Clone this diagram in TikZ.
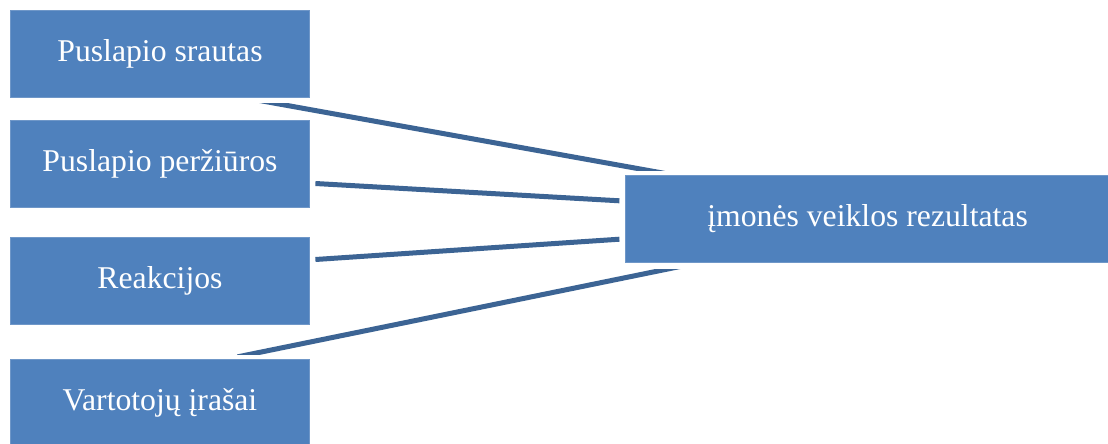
\documentclass[tikz,border=0pt]{standalone}
\usepackage{fontspec}
\setmainfont{Liberation Serif}
\definecolor{boxblue}{HTML}{4F81BD}
\definecolor{boxedge}{HTML}{6F97C8}
\definecolor{linkblue}{HTML}{3C6494}
\begin{document}
\begin{tikzpicture}[x=1pt,y=-1pt,
  itembox/.style={rectangle, fill=boxblue, draw=boxedge, line width=0.8pt,
    inner sep=0pt, minimum width=299pt, minimum height=87pt,
    text=white, font=\fontsize{31.7}{38}\selectfont},
  resultbox/.style={itembox, minimum width=485pt},
  link/.style={draw=linkblue, line width=5pt, line cap=butt}]
  \clip (0,0) rectangle (1108,444);
  \fill[white] (0,0) rectangle (1108,444);

  % source boxes on the left
  \node[itembox] (a) at (160,53.5)  {Puslapio srautas};
  \node[itembox] (b) at (160,164.2) {Puslapio peržiūros};
  \node[itembox] (c) at (160,280.4) {Reakcijos};
  \node[itembox] (d) at (160,402.8) {Vartotojų įrašai};

  % target box on the right
  \node[resultbox] (r) at (867.6,218.7) {įmonės veiklos rezultatas};

  % connectors; the slanted ones end in horizontal cuts
  \begin{scope}
    \clip (0,103.3) rectangle (1108,170);
    \draw[link] ([shift={(-52.5,2.7)}]a.south east) -- ([shift={(40,-1.4)}]r.north west);
  \end{scope}
  \draw[link] ([shift={(5.5,19.3)}]b.east) -- ([shift={(-5.3,-17.9)}]r.west);
  \draw[link] ([shift={(5.5,-20.9)}]c.east) -- ([shift={(-5.3,20.5)}]r.west);
  \begin{scope}
    \clip (0,269) rectangle (1108,354);
    \draw[link] ([shift={(227.5,-2.05)}]d.north west) -- ([shift={(61.7,2.6)}]r.south west);
  \end{scope}
\end{tikzpicture}
\end{document}
